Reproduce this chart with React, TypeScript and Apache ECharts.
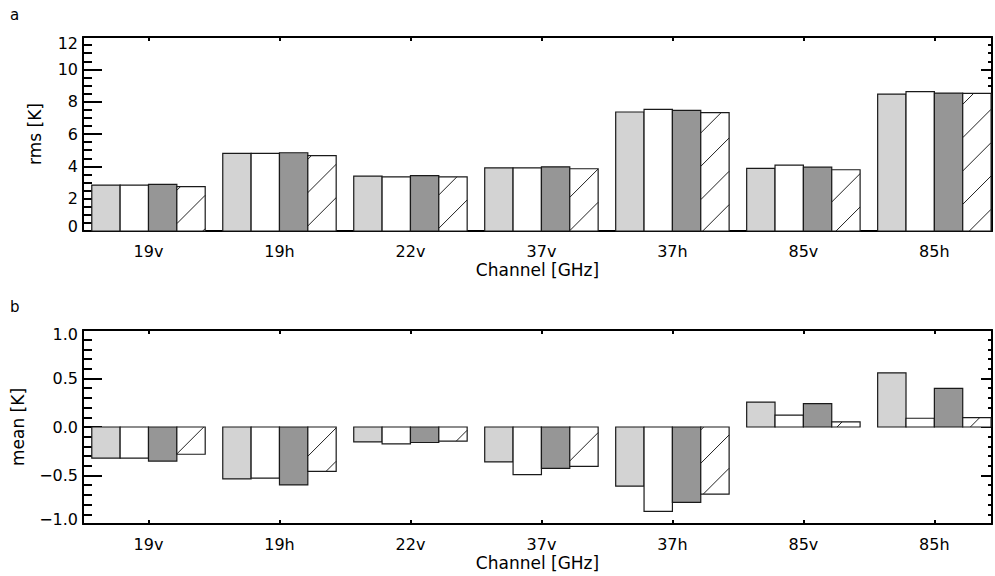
import React, { useEffect, useRef } from "react";
import * as echarts from "echarts";

const categories = ["19v", "19h", "22v", "37v", "37h", "85v", "85h"];

// panel a: rms [K]
const rmsLight = [2.84, 4.8, 3.39, 3.91, 7.36, 3.87, 8.47];
const rmsWhite = [2.84, 4.8, 3.35, 3.91, 7.52, 4.08, 8.62];
const rmsDark = [2.88, 4.84, 3.42, 3.97, 7.46, 3.95, 8.53];
const rmsHatch = [2.74, 4.66, 3.35, 3.85, 7.32, 3.79, 8.51];

// panel b: mean [K]
const meanLight = [-0.32, -0.535, -0.153, -0.36, -0.61, 0.257, 0.559];
const meanWhite = [-0.32, -0.528, -0.174, -0.49, -0.87, 0.122, 0.09];
const meanDark = [-0.351, -0.597, -0.16, -0.427, -0.778, 0.24, 0.399];
const meanHatch = [-0.281, -0.458, -0.146, -0.406, -0.691, 0.052, 0.097];

const rmsTicks = { min: 0, max: 12, interval: 2, minorSplit: 4 };
const meanTicks = { min: -1, max: 1, interval: 0.5, minorSplit: 5 };

const FILLS = ["#d3d3d3", "#ffffff", "#969696", "#ffffff"];
const BAR_W = 0.2165;
const HATCH_SP = 33.33;
const FONT = "DejaVu Sans";

function makeRender(i: number, hatch: boolean, phase: number) {
  return (params: any, api: any) => {
    const x = api.value(0);
    const v = api.value(1);
    const left = x - 2 * BAR_W + i * BAR_W;
    const p0 = api.coord([left, 0]);
    const p1 = api.coord([left + BAR_W, v]);
    const x0 = p0[0];
    const x1 = p1[0];
    const yT = Math.min(p0[1], p1[1]);
    const yB = Math.max(p0[1], p1[1]);
    const children: any[] = [
      {
        type: "rect",
        shape: { x: x0, y: yT, width: x1 - x0, height: yB - yT },
        style: { fill: FILLS[i], stroke: "none" },
      },
    ];
    if (hatch) {
      const cmin = x0 + yT;
      const cmax = x1 + yB;
      const kStart = Math.ceil((cmin - phase) / HATCH_SP);
      const kEnd = Math.floor((cmax - phase) / HATCH_SP);
      for (let k = kStart; k <= kEnd; k++) {
        const c = k * HATCH_SP + phase;
        const xs = Math.max(x0, c - yB);
        const xe = Math.min(x1, c - yT);
        if (xe - xs > 0.3) {
          children.push({
            type: "line",
            shape: { x1: xs, y1: c - xs, x2: xe, y2: c - xe },
            style: { stroke: "#222", lineWidth: 1 },
          });
        }
      }
    }
    children.push({
      type: "rect",
      shape: { x: x0, y: yT, width: x1 - x0, height: yB - yT },
      style: { fill: "none", stroke: "#1a1a1a", lineWidth: 1.2 },
    });
    return { type: "group", children };
  };
}

function xAxes(gridIndex: number) {
  const common = {
    type: "value",
    gridIndex,
    min: 0.5,
    max: 7.44,
    splitLine: { show: false },
    axisLine: { show: true, onZero: false, lineStyle: { color: "#000", width: 2 } },
  };
  return [
    {
      ...common,
      position: "bottom",
      name: "Channel [GHz]",
      nameLocation: "middle",
      nameGap: 30,
      nameTextStyle: { fontFamily: FONT, fontSize: 17, color: "#000" },
      axisTick: {
        show: true,
        inside: true,
        length: 4,
        customValues: [1, 2, 3, 4, 5, 6, 7],
        lineStyle: { color: "#000", width: 2 },
      },
      axisLabel: {
        show: true,
        margin: 12,
        customValues: [1, 2, 3, 4, 5, 6, 7],
        formatter: (v: number) => categories[Math.round(v) - 1] ?? "",
        fontFamily: FONT,
        fontSize: 16,
        color: "#000",
      },
    },
    {
      ...common,
      position: "top",
      axisTick: {
        show: true,
        inside: true,
        length: 4,
        customValues: [1, 2, 3, 4, 5, 6, 7],
        lineStyle: { color: "#000", width: 2 },
      },
      axisLabel: { show: false },
    },
  ];
}

function yAxes(
  gridIndex: number,
  t: { min: number; max: number; interval: number; minorSplit: number },
  name: string,
  nameGap: number,
  fmt: (v: number) => string,
  padHi: number,
  padLo: number
) {
  const common = {
    type: "value",
    gridIndex,
    min: t.min,
    max: t.max,
    interval: t.interval,
    splitLine: { show: false },
    minorSplitLine: { show: false },
    axisLine: { show: true, onZero: false, lineStyle: { color: "#000", width: 2 } },
  };
  const base = { fontFamily: FONT, fontSize: 16, color: "#000" };
  return [
    {
      ...common,
      position: "left",
      name,
      nameLocation: "middle",
      nameGap,
      nameTextStyle: { fontFamily: FONT, fontSize: 17, color: "#000" },
      axisTick: { show: true, inside: true, length: 19, lineStyle: { color: "#000", width: 2 } },
      minorTick: {
        show: true,
        splitNumber: t.minorSplit,
        length: 9,
        lineStyle: { color: "#000", width: 2 },
      },
      axisLabel: {
        show: true,
        margin: 5,
        ...base,
        formatter: (v: number) => {
          const s = fmt(v);
          if (Math.abs(v - t.max) < 1e-9) return "{hi|" + s + "}";
          if (Math.abs(v - t.min) < 1e-9) return "{lo|" + s + "}";
          return "{n|" + s + "}";
        },
        rich: {
          n: { ...base },
          hi: { ...base, padding: [padHi, 0, 0, 0] },
          lo: { ...base, padding: [0, 0, padLo, 0] },
        },
      },
    },
    {
      ...common,
      position: "right",
      axisTick: { show: true, inside: true, length: 11, lineStyle: { color: "#000", width: 2 } },
      minorTick: {
        show: true,
        splitNumber: t.minorSplit,
        length: 4,
        lineStyle: { color: "#000", width: 2 },
      },
      axisLabel: { show: false },
    },
  ];
}

function barSeries(
  values: number[][],
  xAxisIndex: number,
  yAxisIndex: number,
  phase: number
) {
  return values.map((vals, i) => ({
    type: "custom",
    xAxisIndex,
    yAxisIndex,
    renderItem: makeRender(i, i === 3, phase),
    encode: { x: 0, y: 1 },
    data: vals.map((v, j) => [j + 1, v]),
  }));
}

export default function App() {
  const ref = useRef<HTMLDivElement>(null);
  useEffect(() => {
    if (!ref.current) return;
    const chart = echarts.init(ref.current, null, { renderer: "svg" });
    const option: any = {
      animation: false,
      backgroundColor: "#fff",
      grid: [
        { left: 83, top: 37, width: 909, height: 194 },
        { left: 83, top: 330, width: 909, height: 194 },
      ],
      xAxis: [...xAxes(0), ...xAxes(1)],
      yAxis: [
        ...yAxes(0, rmsTicks, "rms [K]", 40, (v) => String(v), 13, 9),
        ...yAxes(
          1,
          meanTicks,
          "mean [K]",
          57,
          (v) => v.toFixed(1).replace("-", "\u2212"),
          8,
          10
        ),
      ],
      series: [
        ...barSeries([rmsLight, rmsWhite, rmsDark, rmsHatch], 0, 0, 0.5),
        ...barSeries([meanLight, meanWhite, meanDark, meanHatch], 2, 2, -2.5),
      ],
      graphic: [
        {
          type: "text",
          left: 10,
          top: 7,
          style: { text: "a", font: "15px DejaVu Sans", fill: "#000" },
        },
        {
          type: "text",
          left: 10,
          top: 299,
          style: { text: "b", font: "15px DejaVu Sans", fill: "#000" },
        },
      ],
    };
    chart.setOption(option);
    return () => chart.dispose();
  }, []);
  return (
    <div
      ref={ref}
      style={{ position: "absolute", left: 0, top: 0, width: 995, height: 576 }}
    />
  );
}
